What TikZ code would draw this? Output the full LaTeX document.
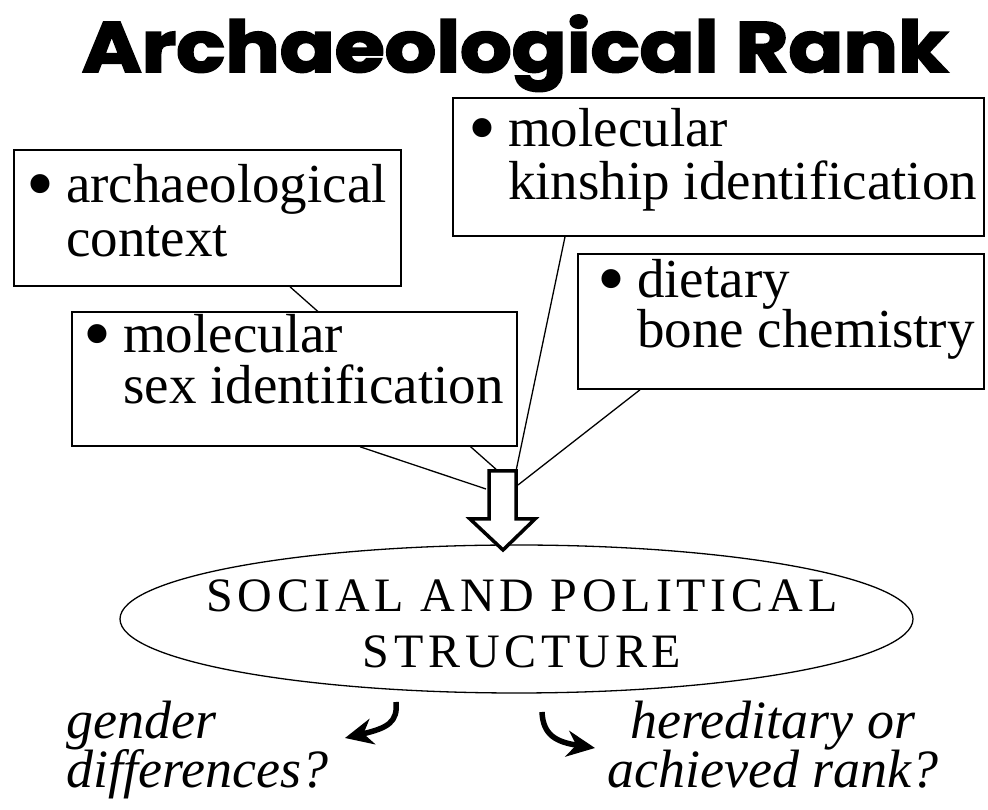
\documentclass[tikz,border=0pt]{standalone}
\usepackage{fontspec}
\setmainfont{Liberation Serif}
\newfontfamily\titlefont{Poppins}[FakeBold=2.5]
\usetikzlibrary{arrows.meta,calc,shapes.geometric}
\pgfdeclarelayer{bg}
\pgfsetlayers{bg,main}
\newcommand\twoL[3]{\vtop{\baselineskip=#1\lineskiplimit=-1000pt\lineskip=0pt\halign{##\hfil\cr #2\cr #3\cr}}}
\newcommand\twoC[3]{\vtop{\baselineskip=#1\lineskiplimit=-1000pt\lineskip=0pt\halign{\hfil##\hfil\cr #2\cr #3\cr}}}
\newcommand\bul{\llap{\raisebox{-8pt}{\scalebox{1.45}{\textbullet}}\hspace{12pt}}}
\begin{document}
\begin{tikzpicture}[x=1pt,y=1pt,
  box/.style={draw, line width=1.6pt, fill=white, inner sep=0pt, rectangle},
  txt/.style={inner sep=0pt, anchor=base west, font=\fontsize{55}{60}\selectfont},
  itxt/.style={inner sep=0pt, font=\fontsize{54}{60}\selectfont\itshape},
  captxt/.style={inner sep=0pt, anchor=base, font=\fontsize{48}{50}\selectfont\addfontfeature{LetterSpace=10}},
  conn/.style={line width=1.3pt},
  curv/.style={line width=5.5pt, -{Stealth[length=28pt,width=26pt,inset=9pt]}},
  blockarrow/.style={line width=3.5pt, fill=white, line join=miter}
]
\useasboundingbox (0,0) rectangle (988,810);

% title
\node[inner sep=0pt, anchor=base] (title) at (515,738)
  {\resizebox{866pt}{57pt}{\titlefont\bfseries Archaeological Rank}};

% boxes
\node[box, minimum width=387pt, minimum height=136pt] (A) at (207.5,592) {};
\node[box, minimum width=531pt, minimum height=138pt] (B) at (718.5,643) {};
\node[box, minimum width=445pt, minimum height=134pt] (C) at (294.5,431) {};
\node[box, minimum width=406pt, minimum height=135pt] (D) at (781,488.5) {};

% box texts
\node[txt] (at) at (66,607) {\twoL{54pt}{\bul archaeological}{context}};
\node[txt] (bt) at (508,663) {\twoL{53pt}{\bul molecular}{kinship identification}};
\node[txt] (ct) at (123,457) {\twoL{51pt}{\bul molecular}{sex identification}};
\node[txt] (dt) at (637,512) {\twoL{50pt}{\bul dietary}{bone chemistry}};

% ellipse
\node[draw, ellipse, line width=1.3pt, minimum width=793pt, minimum height=148pt, inner sep=0pt] (E) at (516.5,191) {};
\node[captxt] (st) at (522,198) {\twoC{56pt}{SOCIAL AND POLITICAL}{STRUCTURE}};

% block arrow
\coordinate (tA) at (498,339);
\coordinate (tB) at (516,339);
\coordinate (tC) at (486,321);
\coordinate (tD) at (518,325);
\draw[blockarrow] (489,339) -- (516,339) -- (516,291) -- (535,291) -- (503,260) -- (470,291) -- (489,291) -- cycle;

% connectors
\begin{pgfonlayer}{bg}
\draw[conn] ([xshift=82.5pt]A.south) -- (tA);
\draw[conn] ([xshift=65.5pt]C.south) -- (tC);
\draw[conn] ([xshift=-153.5pt]B.south) -- (tB);
\draw[conn] ([xshift=-141pt]D.south) -- (tD);
\end{pgfonlayer}

% bottom texts
\node[itxt, anchor=base west] (gt) at (66,71) {\twoL{49pt}{gender}{differences?}};
\node[itxt, anchor=base] (ht) at (773,71) {\twoC{49pt}{hereditary or}{achieved rank?}};

% curved arrows
\coordinate (gs) at (396,108);
\coordinate (ge) at (345,72);
\coordinate (hs) at (542,98);
\coordinate (he) at (595,62);
\draw[curv] (gs) .. controls (398,88) and (388,82) .. (ge);
\draw[curv] (hs) .. controls (543,75) and (556,68) .. (he);
\end{tikzpicture}
\end{document}
